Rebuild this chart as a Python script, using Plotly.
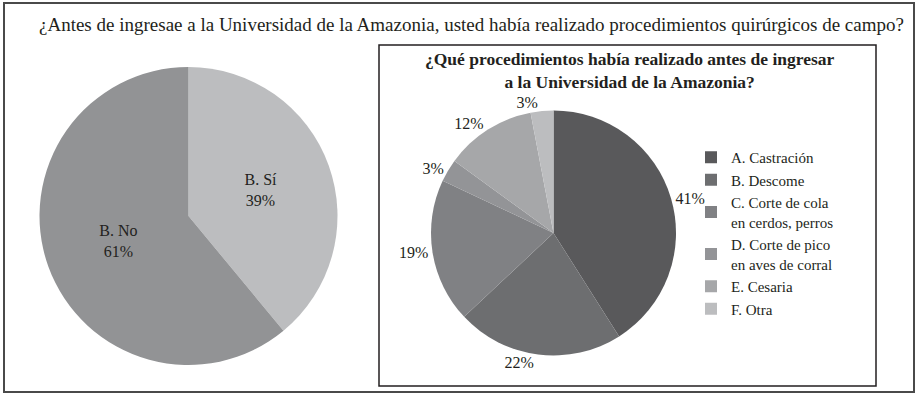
import plotly.graph_objects as go

# Left pie data
left_labels = ["B. Sí", "B. No"]
left_values = [39, 61]
left_colors = ["#bcbdbf", "#929395"]

# Right pie data
right_labels = [
    "A. Castración",
    "B. Descome",
    "C. Corte de cola<br>en cerdos, perros",
    "D. Corte de pico<br>en aves de corral",
    "E. Cesaria",
    "F. Otra",
]
right_values = [41, 22, 19, 3, 12, 3]
right_colors = ["#59595b", "#6d6e70", "#808184", "#939497", "#a6a7a9", "#bcbdbf"]

main_title = "¿Antes de ingresae a la Universidad de la Amazonia, usted había realizado procedimientos quirúrgicos de campo?"
right_title = "<b>¿Qué procedimientos había realizado antes de ingresar<br>a la Universidad de la Amazonia?</b>"

W, H = 923, 398
FONT = "Liberation Serif"
TXT = "#231f20"

def px_x(v):
    return v / W

def px_y(v):
    return 1 - v / H

fig = go.Figure()

fig.add_trace(go.Pie(
    labels=left_labels, values=left_values, sort=False, direction="clockwise",
    marker=dict(colors=left_colors, line=dict(width=0)),
    texttemplate="%{label}<br>%{percent}", textposition="inside",
    insidetextorientation="horizontal",
    textfont=dict(family=FONT, size=16, color=TXT),
    showlegend=False, hoverinfo="label+percent",
    domain=dict(x=[px_x(188.5 - 149), px_x(188.5 + 149)], y=[px_y(216 + 149), px_y(216 - 149)]),
))

fig.add_trace(go.Pie(
    labels=right_labels, values=right_values, sort=False, direction="clockwise",
    marker=dict(colors=right_colors, line=dict(width=0)),
    textinfo="percent", textposition="outside",
    textfont=dict(family=FONT, size=16, color=TXT),
    showlegend=True,
    domain=dict(x=[px_x(553.5 - 122.5), px_x(553.5 + 122.5)], y=[px_y(233 + 122.5), px_y(233 - 122.5)]),
))

fig.update_layout(
    width=W, height=H,
    margin=dict(l=0, r=0, t=0, b=0),
    paper_bgcolor="white", plot_bgcolor="white",
    font=dict(family=FONT, color=TXT),
    legend=dict(
        x=px_x(691), y=px_y(141), xanchor="left", yanchor="top",
        font=dict(family=FONT, size=15, color=TXT),
        bgcolor="rgba(0,0,0,0)",
    ),
    shapes=[
        dict(type="rect", xref="paper", yref="paper",
             x0=px_x(4), x1=px_x(914), y0=px_y(392), y1=px_y(3),
             line=dict(color="#4a4a4a", width=2)),
        dict(type="rect", xref="paper", yref="paper",
             x0=px_x(379), x1=px_x(876), y0=px_y(386), y1=px_y(45),
             line=dict(color=TXT, width=1.5)),
    ],
    annotations=[
        dict(text=main_title, x=px_x(471), y=px_y(24), xref="paper", yref="paper",
             xanchor="center", yanchor="middle", showarrow=False,
             font=dict(family=FONT, size=19, color=TXT)),
        dict(text=right_title, x=px_x(630), y=px_y(71), xref="paper", yref="paper",
             xanchor="center", yanchor="middle", showarrow=False,
             font=dict(family=FONT, size=17.5, color=TXT)),
    ],
)

fig.write_html("out.html", config={"displayModeBar": False},
               post_script="document.body.style.margin='0';")
